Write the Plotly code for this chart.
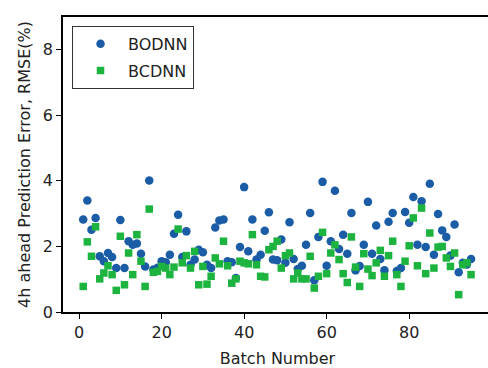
import plotly.graph_objects as go

batches = list(range(1, 96))

bodnn = [2.82, 3.40, 2.51, 2.87, 1.70, 1.55, 1.80, 1.68, 1.34, 2.81,
         1.34, 2.16, 2.05, 2.09, 1.78, 1.39, 4.01, 1.30, 1.35, 1.55,
         1.52, 1.75, 2.39, 2.97, 1.68, 2.46, 1.44, 1.60, 1.90, 1.82,
         1.44, 1.34, 2.58, 2.79, 2.82, 1.55, 1.52, 1.04, 1.98, 3.81,
         1.85, 2.82, 1.60, 1.75, 2.48, 3.04, 1.60, 1.58, 2.21, 1.50,
         2.74, 1.62, 1.31, 1.41, 2.05, 3.02, 0.97, 2.29, 3.97, 1.41,
         2.16, 3.70, 1.92, 2.36, 1.78, 3.02, 1.27, 1.40, 2.05, 3.36,
         1.78, 2.64, 1.62, 1.27, 2.75, 3.02, 1.25, 1.34, 3.05, 2.72,
         3.51, 2.05, 3.38, 1.98, 3.91, 1.75, 2.99, 2.49, 2.29, 1.72,
         2.67, 1.21, 1.50, 1.45, 1.62]

bcdnn = [0.78, 2.14, 1.70, 2.60, 1.01, 1.19, 1.41, 1.14, 0.66, 2.31,
         0.83, 1.80, 1.14, 2.36, 1.55, 0.78, 3.14, 1.21, 1.24, 1.39,
         1.34, 1.14, 1.37, 2.53, 1.50, 1.72, 1.34, 1.85, 0.83, 1.39,
         0.85, 1.09, 1.65, 1.47, 2.16, 1.41, 0.88, 1.01, 1.55, 1.50,
         1.47, 2.36, 1.44, 1.09, 1.07, 1.90, 2.00, 2.16, 1.34, 1.72,
         1.80, 1.01, 1.19, 1.01, 1.01, 1.70, 0.73, 1.09, 2.43, 1.17,
         1.80, 2.05, 1.60, 1.17, 0.90, 2.29, 1.37, 0.78, 1.78, 1.31,
         1.11, 1.50, 1.88, 1.09, 1.72, 2.16, 1.14, 0.78, 1.55, 2.02,
         2.87, 1.41, 3.17, 1.17, 2.41, 1.34, 1.98, 2.00, 1.65, 1.39,
         1.80, 0.53, 1.44, 1.50, 1.14]

x_ticks = [0, 20, 40, 60, 80]
y_ticks = [0, 2, 4, 6, 8]

BLUE = "#1a5ca6"
GREEN = "#1db33f"
FONT = "DejaVu Sans"
FS = 16

fig = go.Figure()
fig.add_trace(go.Scatter(
    x=batches, y=bodnn, mode="markers", name="BODNN",
    legendgroup="a",
    marker=dict(symbol="circle", size=8.5, color=BLUE, line=dict(width=0)),
))
fig.add_trace(go.Scatter(
    x=batches, y=bcdnn, mode="markers", name="BCDNN",
    legendgroup="b",
    marker=dict(symbol="square", size=7.5, color=GREEN, line=dict(width=0)),
))

axis_common = dict(
    showgrid=False, zeroline=False, showline=True, linecolor="black",
    linewidth=1.5, ticks="outside", ticklen=5, tickwidth=1.2, tickcolor="black",
    tickfont=dict(family=FONT, size=FS, color="#222222"),
)

fig.update_layout(
    width=492, height=368,
    margin=dict(l=63, r=0, t=17, b=56),
    paper_bgcolor="white", plot_bgcolor="white",
    font=dict(family=FONT, size=FS, color="#222222"),
    xaxis=dict(
        range=[-3.9, 100.07], tickvals=x_ticks, mirror=True,
        title=dict(text="Batch Number", font=dict(family=FONT, size=FS), standoff=12),
        **axis_common,
    ),
    yaxis=dict(
        range=[0, 9], tickvals=y_ticks, mirror=False,
        title=dict(text="4h ahead Prediction Error, RMSE(%)",
                   font=dict(family=FONT, size=FS), standoff=8),
        **axis_common,
    ),
    legend=dict(
        x=0.021, y=0.97, xanchor="left", yanchor="top",
        bordercolor="#333333", borderwidth=1, bgcolor="white",
        font=dict(family=FONT, size=FS, color="#222222"),
        tracegroupgap=3, itemwidth=45,
    ),
)

fig.write_html(
    "out.html", config={"displayModeBar": False},
    post_script=("document.body.style.margin='0';"
                 "document.body.style.overflow='hidden';"
                 "document.documentElement.style.overflow='hidden';"),
)
